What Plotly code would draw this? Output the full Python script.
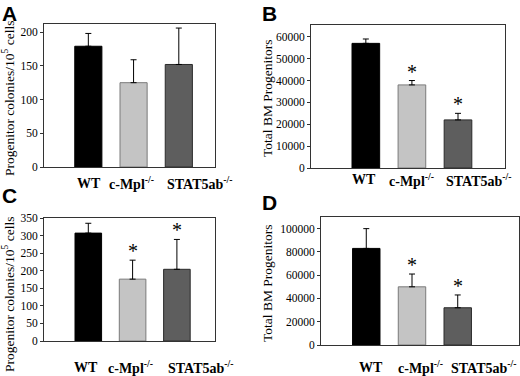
import plotly.graph_objects as go

categories = ["WT", "c-Mpl<sup>-/-</sup>", "STAT5ab<sup>-/-</sup>"]

a_vals = [179, 125, 152]
a_err = [19, 34, 54]
a_sig = [False, False, False]

b_vals = [57000, 38000, 22000]
b_err = [2000, 2000, 3000]
b_sig = [False, True, True]

c_vals = [307, 176, 204]
c_err = [28, 54, 85]
c_sig = [False, True, True]

d_vals = [83000, 50000, 32000]
d_err = [17000, 11000, 11000]
d_sig = [False, True, True]

bar_colors = ["#000000", "#c4c4c4", "#5e5e5e"]
bar_lines = ["#000000", "#7a7a7a", "#2a2a2a"]

W, H = 520, 376

def px_dom_x(l, r):
    return [l / W, r / W]

def px_dom_y(top, bot):
    return [1 - bot / H, 1 - top / H]

panels = [
    dict(name="A", vals=a_vals, err=a_err, sig=a_sig, xd=px_dom_x(44, 215), yd=px_dom_y(24, 167),
         xr=[-0.98, 2.8], yr=[0, 212], dtick=50, title="Progenitor colonies/10<sup>5</sup> cells",
         lx=0, ly=0, tx=8, ty=99, lab_dy=16, lab_dx=[1, -2, 21]),
    dict(name="B", vals=b_vals, err=b_err, sig=b_sig, xd=px_dom_x(311, 505), yd=px_dom_y(25, 168),
         xr=[-1.19, 3.02], yr=[0, 65400], dtick=10000, title="Total BM Progenitors",
         lx=260, ly=0, tx=267, ty=98, lab_dy=12, lab_dx=[-2, 0, 21]),
    dict(name="C", vals=c_vals, err=c_err, sig=c_sig, xd=px_dom_x(44, 215), yd=px_dom_y(218, 341),
         xr=[-1.0, 2.86], yr=[0, 350], dtick=50, title="Progenitor colonies/10<sup>5</sup> cells",
         lx=0, ly=182, tx=8, ty=295, lab_dy=26, lab_dx=[-2, -2, 24]),
    dict(name="D", vals=d_vals, err=d_err, sig=d_sig, xd=px_dom_x(321, 519), yd=px_dom_y(217, 345),
         xr=[-0.99, 3.34], yr=[0, 110000], dtick=20000, title="Total BM Progenitors",
         lx=260, ly=189, tx=267, ty=283, lab_dy=22, lab_dx=[5, 8, 26]),
]

fig = go.Figure()
layout = dict(
    width=W, height=H, margin=dict(l=0, r=0, t=0, b=0, pad=0, autoexpand=False),
    paper_bgcolor="white", plot_bgcolor="white", showlegend=False,
    font=dict(family="Liberation Serif", color="black"),
    annotations=[],
)

for i, p in enumerate(panels):
    n = "" if i == 0 else str(i + 1)
    xa, ya = "x" + n, "y" + n
    fig.add_trace(go.Bar(
        x=list(range(len(categories))), y=p["vals"],
        marker=dict(color=bar_colors, line=dict(color=bar_lines, width=1)),
        width=0.6,
        error_y=dict(type="data", symmetric=False, array=p["err"], arrayminus=[0] * len(p["err"]),
                     color="black", thickness=1, width=3),
        xaxis=xa, yaxis=ya, hoverinfo="skip",
    ))
    layout["xaxis" + n] = dict(
        domain=p["xd"], range=p["xr"], anchor=ya, automargin=False,
        showticklabels=False, ticks="", showgrid=False, zeroline=False,
        showline=True, linecolor="#333333", linewidth=1, mirror=True,
    )
    layout["yaxis" + n] = dict(
        domain=p["yd"], range=p["yr"], anchor=xa, dtick=p["dtick"], tickformat="d", automargin=False,
        ticks="outside", ticklen=3, tickcolor="#333333",
        showgrid=False, zeroline=False,
        showline=True, linecolor="#333333", linewidth=1, mirror=True,
        tickfont=dict(family="Liberation Serif", size=11.5, color="black"),
    )
    for j, cat in enumerate(categories):
        layout["annotations"].append(dict(
            x=j, y=0, xref=xa, yref=ya + " domain", text=cat, showarrow=False,
            xanchor="center", yanchor="middle", yshift=-p["lab_dy"], xshift=p["lab_dx"][j],
            font=dict(family="Liberation Serif", size=14, color="black", weight="bold"),
        ))
    layout["annotations"].append(dict(
        x=p["tx"] / W, y=1 - p["ty"] / H, xref="paper", yref="paper",
        xanchor="center", yanchor="middle", textangle=-90, text=p["title"], showarrow=False,
        font=dict(family="Liberation Serif", size=13.5, color="black"),
    ))
    for j, s in enumerate(p["sig"]):
        if s:
            layout["annotations"].append(dict(
                x=j, y=p["vals"][j] + p["err"][j], xref=xa, yref=ya,
                text="*", showarrow=False, yanchor="bottom", yshift=-4,
                font=dict(family="Liberation Serif", size=20, color="black"),
            ))
    layout["annotations"].append(dict(
        x=p["lx"] / W, y=1 - p["ly"] / H, xref="paper", yref="paper",
        xanchor="left", yanchor="top", text="<b>" + p["name"] + "</b>", showarrow=False,
        font=dict(family="Liberation Sans", size=21, color="black"),
    ))

fig.update_layout(**layout)
fig.write_html("out.html", config={"displayModeBar": False},
               post_script="document.body.style.margin='0';document.body.style.overflow='hidden';")
